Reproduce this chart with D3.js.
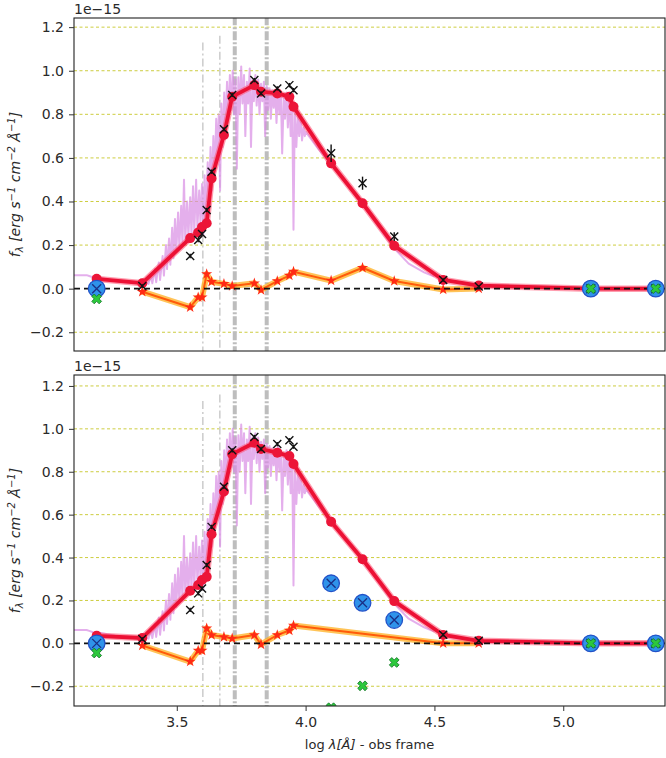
<!DOCTYPE html>
<html>
<head>
<meta charset="utf-8">
<script src="https://cdn.jsdelivr.net/npm/d3@7"></script>
<style>
  body { margin: 0; background: #fff; }
  svg { display: block; font-family: "DejaVu Sans", sans-serif; }
</style>
</head>
<body>
<svg id="vis" width="666" height="758"></svg>
<script>
// photometric bands (log lambda, obs frame)
const bandX = [3.189, 3.366, 3.552, 3.583, 3.598, 3.616, 3.635, 3.683, 3.715, 3.801, 3.827,
               3.890, 3.937, 3.953, 4.099, 4.221, 4.344, 4.534, 4.672, 5.107, 5.359];

// top panel
const modelTop = [0.045, 0.025, 0.232, 0.258, 0.283, 0.300, 0.506, 0.705, 0.881, 0.934, 0.904,
                  0.896, 0.881, 0.835, 0.575, 0.392, 0.197, 0.040, 0.014, 0.0, 0.0];
const obsTop = [null, 0.012, 0.150, 0.223, 0.251, 0.361, 0.537, 0.731, 0.889, 0.957, 0.896,
                0.919, 0.934, 0.911, 0.621, 0.484, 0.239, 0.040, 0.010, null, null];
const errTop = [null, 0.008, 0.010, 0.010, 0.010, 0.010, 0.010, 0.010, 0.010, 0.010, 0.010,
                0.010, 0.010, 0.010, 0.040, 0.030, 0.020, 0.008, 0.006, null, null];
const residTop = [null, -0.014, -0.085, -0.040, -0.040, 0.067, 0.032, 0.022, 0.012, 0.025, -0.006,
                  0.035, 0.060, 0.078, 0.037, 0.096, 0.035, -0.004, 0.001, null, null];
const limTop = [0.0, null, null, null, null, null, null, null, null, null, null,
                null, null, null, null, null, null, null, null, 0.0, 0.0];
const badTop = [-0.047, null, null, null, null, null, null, null, null, null, null,
                null, null, null, null, null, null, null, null, 0.0, 0.0];

// bottom panel
const modelBot = [0.035, 0.025, 0.245, 0.272, 0.295, 0.310, 0.509, 0.708, 0.882, 0.935, 0.906,
                  0.889, 0.873, 0.836, 0.567, 0.392, 0.197, 0.039, 0.012, 0.0, 0.0];
const obsBot = [null, 0.020, 0.156, 0.233, 0.256, 0.365, 0.543, 0.730, 0.900, 0.962, 0.906,
                0.929, 0.947, 0.917, null, null, null, 0.040, 0.012, null, null];
const errBot = [null, 0.008, 0.010, 0.010, 0.010, 0.010, 0.010, 0.010, 0.010, 0.010, 0.010,
                0.010, 0.010, 0.010, null, null, null, 0.008, 0.006, null, null];
const residBot = [null, -0.010, -0.085, -0.034, -0.034, 0.070, 0.039, 0.030, 0.023, 0.039, -0.005,
                  0.039, 0.060, 0.083, null, null, null, 0.000, 0.000, null, null];
const limBot = [0.0, null, null, null, null, null, null, null, null, null, null,
                null, null, null, 0.280, 0.189, 0.109, null, null, 0.0, 0.0];
const badBot = [-0.045, null, null, null, null, null, null, null, null, null, null,
                null, null, null, -0.300, -0.198, -0.089, null, null, 0.0, 0.0];

// observed spectrum (same in both panels)
const specX = [3.100, 3.150, 3.160, 3.175, 3.200, 3.230, 3.260, 3.290, 3.320, 3.350, 3.370, 3.390,
  3.400, 3.405, 3.415, 3.420, 3.430, 3.435, 3.445, 3.450, 3.458, 3.462, 3.470, 3.475, 3.482, 3.487,
  3.493, 3.498, 3.505, 3.510, 3.517, 3.522, 3.528, 3.533, 3.540, 3.545, 3.552, 3.557, 3.563, 3.568,
  3.575, 3.580, 3.587, 3.592, 3.598, 3.603, 3.608, 3.613, 3.620, 3.625, 3.631, 3.636, 3.642, 3.647,
  3.653, 3.658, 3.663, 3.668, 3.673, 3.678, 3.684, 3.689, 3.695, 3.700, 3.706, 3.711, 3.717, 3.722,
  3.728, 3.733, 3.739, 3.744, 3.750, 3.755, 3.761, 3.766, 3.772, 3.777, 3.783, 3.788, 3.794, 3.799,
  3.805, 3.810, 3.816, 3.821, 3.827, 3.832, 3.838, 3.843, 3.849, 3.854, 3.860, 3.865, 3.871, 3.876,
  3.882, 3.887, 3.893, 3.898, 3.904, 3.909, 3.915, 3.920, 3.926, 3.931, 3.937, 3.942, 3.948, 3.953,
  3.958, 3.964, 3.970, 3.975, 3.981, 3.986, 3.992, 3.997, 4.000, 4.050, 4.100, 4.160, 4.220, 4.280,
  4.340, 4.400, 4.460, 4.500];
const specY = [0.062, 0.062, 0.058, 0.052, 0.050, 0.042, 0.035, 0.030, 0.028, 0.026, 0.030, 0.022,
  0.060, 0.025, 0.090, 0.030, 0.120, 0.040, 0.150, 0.060, 0.200, 0.090, 0.230, 0.110, 0.280, 0.140,
  0.320, 0.170, 0.350, 0.190, 0.380, 0.200, 0.500, 0.220, 0.400, 0.240, 0.420, 0.250, 0.470, 0.260,
  0.500, 0.280, 0.450, 0.300, 0.480, 0.250, 0.520, 0.330, 0.580, 0.400, 0.650, 0.450, 0.700, 0.520,
  0.780, 0.600, 0.800, 0.450, 0.850, 0.650, 0.900, 0.720, 0.950, 0.780, 0.980, 0.820, 1.000, 0.800,
  0.960, 0.550, 0.970, 0.800, 1.020, 0.850, 0.980, 0.700, 0.950, 0.850, 1.010, 0.650, 0.960, 0.860,
  0.980, 0.840, 0.960, 0.800, 0.940, 0.860, 0.950, 0.700, 0.930, 0.820, 0.920, 0.780, 0.910, 0.830,
  0.900, 0.760, 0.920, 0.800, 0.900, 0.620, 0.880, 0.780, 0.900, 0.740, 0.880, 0.700, 0.860, 0.270,
  0.820, 0.650, 0.800, 0.700, 0.780, 0.680, 0.740, 0.700, 0.720, 0.640, 0.570, 0.480, 0.390, 0.290,
  0.190, 0.115, 0.075, 0.055];

// marked wavelengths (vertical lines) and how far up they reach
const lineX = [3.601, 3.667, 3.725, 3.849];
const lineTop = [1.13, 1.16, 1.25, 1.25];
const lineWide = [false, false, true, true];

const yTicks = [-0.2, 0.0, 0.2, 0.4, 0.6, 0.8, 1.0, 1.2];
const xTicks = [3.5, 4.0, 4.5, 5.0];

const svg = d3.select('#vis');
const LEFT = 74, RIGHT = 665;

const x = d3.scaleLinear().domain([3.101, 5.395]).range([LEFT, RIGHT]);

const panels = [
    {top: 18, bottom: 351, dom: [-0.286, 1.242], model: modelTop, obs: obsTop, err: errTop,
     resid: residTop, lim: limTop, bad: badTop, xaxis: false},
    {top: 375, bottom: 706, dom: [-0.292, 1.251], model: modelBot, obs: obsBot, err: errBot,
     resid: residBot, lim: limBot, bad: badBot, xaxis: true}
];

panels.forEach(function (p, i) {
    const y = d3.scaleLinear().domain(p.dom).range([p.bottom, p.top]);
    const g = svg.append('g');

    const clipId = 'clip' + i;
    svg.append('clipPath').attr('id', clipId)
        .append('rect')
        .attr('x', LEFT).attr('y', p.top)
        .attr('width', RIGHT - LEFT).attr('height', p.bottom - p.top);

    const plot = g.append('g').attr('clip-path', 'url(#' + clipId + ')');

    // grid
    plot.selectAll('.grid')
        .data(yTicks.filter(function (d) { return d !== 0; }))
        .enter().append('line')
        .attr('x1', LEFT).attr('x2', RIGHT)
        .attr('y1', function (d) { return y(d); })
        .attr('y2', function (d) { return y(d); })
        .attr('stroke', '#c4c41e')
        .attr('stroke-opacity', 0.85)
        .attr('stroke-width', 1)
        .attr('stroke-dasharray', '3,2.5');

    // vertical marker lines
    lineX.forEach(function (lx, k) {
        plot.append('line')
            .attr('x1', x(lx)).attr('x2', x(lx))
            .attr('y1', y(lineTop[k])).attr('y2', p.bottom)
            .attr('stroke', lineWide[k] ? '#bdbdbd' : '#cfcfcf')
            .attr('stroke-width', lineWide[k] ? 4 : 1.6)
            .attr('stroke-dasharray', lineWide[k] ? '9,2,2,2' : '8,3,2,3');
    });

    // spectrum
    const spec = specX.map(function (d, k) { return [d, specY[k]]; });
    plot.append('path')
        .datum(spec)
        .attr('fill', 'none')
        .attr('stroke', '#d88de4')
        .attr('stroke-opacity', 0.7)
        .attr('stroke-width', 2)
        .attr('stroke-linejoin', 'round')
        .attr('d', d3.line().x(function (d) { return x(d[0]); }).y(function (d) { return y(d[1]); }));

    // residuals (orange)
    const res = bandX.map(function (d, k) { return [d, p.resid[k]]; })
        .filter(function (d) { return d[1] !== null; });
    const resLine = d3.line().x(function (d) { return x(d[0]); }).y(function (d) { return y(d[1]); });
    plot.append('path').datum(res)
        .attr('fill', 'none').attr('stroke', '#ffb020').attr('stroke-opacity', 0.75)
        .attr('stroke-width', 6).attr('stroke-linejoin', 'round')
        .attr('d', resLine);
    plot.append('path').datum(res)
        .attr('fill', 'none').attr('stroke', '#ff5a0a')
        .attr('stroke-width', 2).attr('stroke-linejoin', 'round')
        .attr('d', resLine);
    plot.selectAll('.star')
        .data(res)
        .enter().append('path')
        .attr('transform', function (d) { return 'translate(' + x(d[0]) + ',' + y(d[1]) + ')'; })
        .attr('d', d3.symbol().type(d3.symbolStar).size(38))
        .attr('fill', '#ff2a14');

    // model (red)
    const mod = bandX.map(function (d, k) { return [d, p.model[k]]; });
    const modLine = d3.line().x(function (d) { return x(d[0]); }).y(function (d) { return y(d[1]); });
    plot.append('path').datum(mod)
        .attr('fill', 'none').attr('stroke', '#ff4d6d').attr('stroke-opacity', 0.55)
        .attr('stroke-width', 6.5).attr('stroke-linejoin', 'round')
        .attr('d', modLine);
    plot.append('path').datum(mod)
        .attr('fill', 'none').attr('stroke', '#ec1034')
        .attr('stroke-width', 3.8).attr('stroke-linejoin', 'round')
        .attr('d', modLine);
    plot.selectAll('.mdot')
        .data(mod)
        .enter().append('circle')
        .attr('cx', function (d) { return x(d[0]); })
        .attr('cy', function (d) { return y(d[1]); })
        .attr('r', 5)
        .attr('fill', '#ec1538');

    // zero line
    plot.append('line')
        .attr('x1', LEFT).attr('x2', RIGHT)
        .attr('y1', y(0)).attr('y2', y(0))
        .attr('stroke', '#111')
        .attr('stroke-width', 1.6)
        .attr('stroke-dasharray', '6,4');

    // observed fluxes (black x with error bars)
    const obs = bandX.map(function (d, k) { return [d, p.obs[k], p.err[k]]; })
        .filter(function (d) { return d[1] !== null; });
    plot.selectAll('.err')
        .data(obs)
        .enter().append('line')
        .attr('x1', function (d) { return x(d[0]); })
        .attr('x2', function (d) { return x(d[0]); })
        .attr('y1', function (d) { return y(d[1] - d[2]); })
        .attr('y2', function (d) { return y(d[1] + d[2]); })
        .attr('stroke', '#111').attr('stroke-width', 1.4);
    plot.selectAll('.obs')
        .data(obs)
        .enter().append('path')
        .attr('transform', function (d) { return 'translate(' + x(d[0]) + ',' + y(d[1]) + ')'; })
        .attr('d', 'M-4,-4L4,4M-4,4L4,-4')
        .attr('stroke', '#111').attr('stroke-width', 1.4).attr('fill', 'none');

    // excluded bands: blue circles and green crosses
    const lim = bandX.map(function (d, k) { return [d, p.lim[k]]; })
        .filter(function (d) { return d[1] !== null; });
    const blue = plot.selectAll('.lim')
        .data(lim)
        .enter().append('g')
        .attr('transform', function (d) { return 'translate(' + x(d[0]) + ',' + y(d[1]) + ')'; });
    blue.append('circle')
        .attr('r', 8.3)
        .attr('fill', '#2f93ea')
        .attr('stroke', '#2352c8').attr('stroke-width', 1.3);
    blue.append('path')
        .attr('d', 'M-4.5,-4.5L4.5,4.5M-4.5,4.5L4.5,-4.5')
        .attr('stroke', '#1b2f86').attr('stroke-width', 1.3);

    const bad = bandX.map(function (d, k) { return [d, p.bad[k]]; })
        .filter(function (d) { return d[1] !== null; });
    plot.selectAll('.bad')
        .data(bad)
        .enter().append('path')
        .attr('transform', function (d) { return 'translate(' + x(d[0]) + ',' + y(d[1]) + ') rotate(45)'; })
        .attr('d', d3.symbol().type(d3.symbolCross).size(60))
        .attr('fill', '#2cc83c')
        .attr('stroke', '#16782a').attr('stroke-width', 0.8);

    // frame
    g.append('rect')
        .attr('x', LEFT).attr('y', p.top)
        .attr('width', RIGHT - LEFT).attr('height', p.bottom - p.top)
        .attr('fill', 'none').attr('stroke', '#222').attr('stroke-width', 1.1);

    // y axis
    const yAxis = g.append('g')
        .attr('transform', 'translate(' + LEFT + ',0)')
        .call(d3.axisLeft(y).tickValues(yTicks).tickFormat(d3.format('.1f'))
            .tickSize(5).tickSizeOuter(0).tickPadding(5));
    yAxis.select('.domain').remove();
    yAxis.selectAll('text').attr('font-size', 14).attr('fill', '#2a2a2a')
        .attr('font-family', '"DejaVu Sans", sans-serif');
    yAxis.selectAll('line').attr('stroke', '#333');

    // offset text
    g.append('text')
        .attr('x', LEFT).attr('y', p.top - 4)
        .attr('font-size', 14).attr('fill', '#2a2a2a')
        .text('1e\u221215');

    // y label
    const lab = g.append('text')
        .attr('transform', 'translate(20,' + ((p.top + p.bottom) / 2) + ') rotate(-90)')
        .attr('text-anchor', 'middle')
        .attr('font-size', 14)
        .attr('fill', '#2a2a2a')
        .attr('font-style', 'italic');
    lab.append('tspan').text('f');
    lab.append('tspan').attr('font-size', 10).attr('dy', 3).text('\u03bb');
    lab.append('tspan').attr('dy', -3).text(' [erg s');
    lab.append('tspan').attr('font-size', 10).attr('dy', -5).text('\u22121');
    lab.append('tspan').attr('dy', 5).text(' cm');
    lab.append('tspan').attr('font-size', 10).attr('dy', -5).text('\u22122');
    lab.append('tspan').attr('dy', 5).text(' \u00c5');
    lab.append('tspan').attr('font-size', 10).attr('dy', -5).text('\u22121');
    lab.append('tspan').attr('dy', 5).text(']');

    if (p.xaxis) {
        const xAxis = g.append('g')
            .attr('transform', 'translate(0,' + p.bottom + ')')
            .call(d3.axisBottom(x).tickValues(xTicks).tickFormat(d3.format('.1f'))
                .tickSize(5).tickSizeOuter(0).tickPadding(6));
        xAxis.select('.domain').remove();
        xAxis.selectAll('text').attr('font-size', 14).attr('fill', '#2a2a2a')
            .attr('font-family', '"DejaVu Sans", sans-serif');
        xAxis.selectAll('line').attr('stroke', '#333');

        const xl = g.append('text')
            .attr('x', (LEFT + RIGHT) / 2).attr('y', 749)
            .attr('text-anchor', 'middle')
            .attr('font-size', 13).attr('fill', '#2a2a2a');
        xl.append('tspan').text('log ');
        xl.append('tspan').attr('font-style', 'italic').text('\u03bb[\u00c5]');
        xl.append('tspan').text(' - obs frame');
    }
});
</script>
</body>
</html>
